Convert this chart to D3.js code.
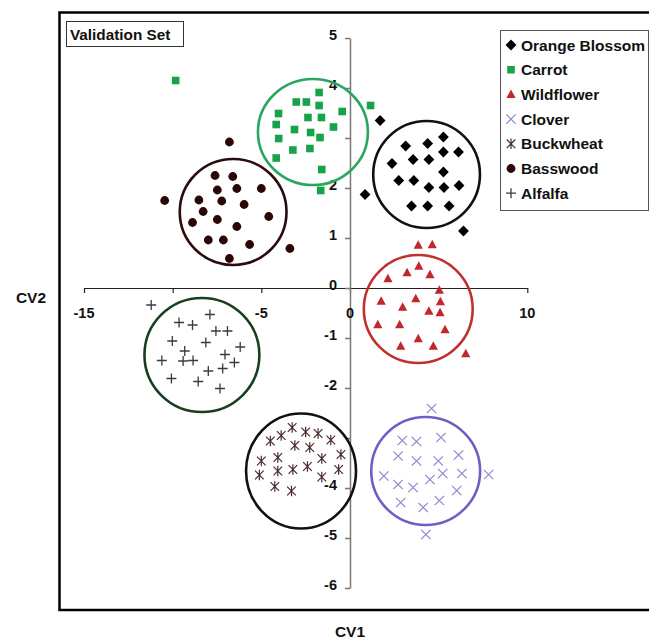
<!DOCTYPE html>
<html>
<head>
<meta charset="utf-8">
<script src="https://cdn.jsdelivr.net/npm/d3@7"></script>
<style>
  html, body { margin: 0; padding: 0; background: #fff; }
  svg { display: block; }
  text { font-family: "Liberation Sans", Arial, sans-serif; font-weight: bold; fill: #111; }
</style>
</head>
<body>
<svg id="chart" width="649" height="639"></svg>
<script>
// ---------- data ----------
const seriesNames = ["Orange Blossom", "Carrot", "Wildflower", "Clover", "Buckwheat", "Basswood", "Alfalfa"];

const orangeX = [1.70,5.27,3.14,4.38,5.27,6.12,3.56,4.45,2.37,5.27,2.75,3.60,4.45,5.30,6.15,0.85,3.47,4.38,5.59,6.40];
const orangeY = [3.35,3.02,2.84,2.89,2.72,2.72,2.57,2.57,2.49,2.32,2.15,2.15,2.01,2.01,2.05,1.87,1.64,1.64,1.64,1.14];

const carrotX = [-9.83,-1.74,-3.03,-2.46,-1.74,-0.44,1.16,-4.03,-2.37,-1.61,-4.16,-3.13,-0.93,-2.22,-1.69,-4.02,-3.22,-2.26,-4.16,-1.59,-1.65];
const carrotY = [4.15,3.91,3.72,3.72,3.65,3.53,3.65,3.49,3.41,3.41,3.27,3.17,3.22,3.11,3.01,2.99,2.76,2.79,2.60,2.37,1.95];

const wildX = [3.85,4.64,3.88,3.22,4.51,2.14,5.04,1.76,3.71,5.10,2.97,4.45,5.08,1.57,2.80,5.36,3.85,2.86,4.70,6.53];
const wildY = [0.86,0.87,0.44,0.31,0.27,0.19,-0.04,-0.26,-0.21,-0.27,-0.38,-0.46,-0.49,-0.73,-0.73,-0.83,-1.01,-1.16,-1.16,-1.31];

const cloverX = [4.60,2.95,3.75,5.13,2.71,3.75,4.98,6.12,5.23,6.31,7.82,1.91,4.51,2.71,3.56,6.02,2.86,5.04,4.13,4.28];
const cloverY = [-2.41,-3.05,-3.07,-2.99,-3.36,-3.46,-3.46,-3.34,-3.71,-3.71,-3.73,-3.76,-3.83,-3.93,-3.99,-4.05,-4.29,-4.25,-4.39,-4.93];

const buckX = [-3.26,-3.88,-2.50,-1.80,-4.49,-1.08,-3.11,-2.27,-0.51,-5.00,-4.07,-1.59,-3.22,-2.40,-4.07,-0.64,-5.11,-1.59,-4.24,-3.30];
const buckY = [-2.79,-2.95,-2.88,-2.91,-3.06,-3.04,-3.15,-3.19,-3.33,-3.46,-3.39,-3.41,-3.63,-3.57,-3.66,-3.63,-3.74,-3.78,-3.97,-4.06];

const bassX = [-6.80,-10.45,-7.61,-6.61,-7.48,-6.38,-5.00,-8.52,-7.23,-5.97,-8.28,-4.58,-8.88,-7.48,-6.38,-7.99,-7.14,-5.66,-3.39,-6.80];
const bassY = [2.92,1.75,2.25,2.23,1.96,1.99,1.99,1.76,1.74,1.67,1.53,1.43,1.31,1.37,1.23,0.96,0.96,0.87,0.79,0.59];

const alfX = [-11.21,-7.90,-9.64,-8.88,-7.56,-6.91,-10.02,-8.13,-6.19,-9.32,-7.05,-10.61,-9.41,-8.85,-6.52,-7.18,-7.99,-10.07,-8.56,-7.33];
const alfY = [-0.34,-0.53,-0.69,-0.74,-0.86,-0.86,-1.06,-1.09,-1.18,-1.26,-1.33,-1.45,-1.46,-1.45,-1.49,-1.61,-1.66,-1.81,-1.87,-2.01];

// group circles: centre x, centre y, radius in x units, radius in y units
const circleCX = [4.32, -2.09, 3.85, 4.27, -2.76, -6.59, -8.35];
const circleCY = [2.27, 3.12, -0.42, -3.66, -3.66, 1.52, -1.34];
const circleRX = [3.01, 3.10, 3.07, 3.07, 3.10, 3.01, 3.24];
const circleRY = [1.07, 1.06, 1.08, 1.08, 1.15, 1.06, 1.14];

const xTicks = [-15, -10, -5, 0, 5, 10];
const xTickLabels = [-15, -5, 0, 10];
const yTicks = [5, 4, 3, 2, 1, 0, -1, -2, -3, -4, -5, -6];
const yTickLabels = [5, 4, 2, 1, 0, -1, -2, -4, -5, -6];

// ---------- styling ----------
const markerColor = ["#000000", "#17a34a", "#c1272d", "#8c86d2", "#4a2a2a", "#2a0606", "#3a3a44"];
const circleColor = ["#111111", "#2aa65e", "#c0302c", "#6e5fc6", "#151010", "#2a0c0c", "#173f20"];
const markerKind = ["diamond", "square", "triangle", "x", "star", "circle", "plus"];

const xs = [orangeX, carrotX, wildX, cloverX, buckX, bassX, alfX];
const ys = [orangeY, carrotY, wildY, cloverY, buckY, bassY, alfY];

const svg = d3.select("#chart");

const x = d3.scaleLinear().domain([-15, 10]).range([84, 527.3]);
const y = d3.scaleLinear().domain([-6, 5]).range([588, 38]);

// outer frame
svg.append("rect")
  .attr("x", 59.5).attr("y", 12.5).attr("width", 620).attr("height", 597.5)
  .attr("fill", "none").attr("stroke", "#000").attr("stroke-width", 2.5);

// axes
const xAxisG = svg.append("g").attr("transform", `translate(0,${y(0)})`)
  .call(d3.axisBottom(x).tickValues(xTicks).tickSize(5).tickSizeOuter(0).tickFormat(""));
xAxisG.select(".domain").attr("stroke", "#222").attr("stroke-width", 1.2);
xAxisG.selectAll(".tick line").attr("stroke", "#222").attr("stroke-width", 1.2);

const yAxisG = svg.append("g").attr("transform", `translate(${x(0)},0)`)
  .call(d3.axisLeft(y).tickValues(yTicks).tickSize(5).tickSizeOuter(0).tickFormat(""));
yAxisG.select(".domain").attr("stroke", "#777").attr("stroke-width", 1.5);
yAxisG.selectAll(".tick line").attr("stroke", "#777").attr("stroke-width", 1.5);

svg.append("g").selectAll("text").data(xTickLabels).join("text")
  .attr("x", d => x(d)).attr("y", y(0) + 30)
  .attr("text-anchor", "middle").attr("font-size", 14.5)
  .text(d => d);

svg.append("g").selectAll("text").data(yTickLabels).join("text")
  .attr("x", x(0) - 13).attr("y", d => y(d) + 2)
  .attr("text-anchor", "end").attr("font-size", 14.5)
  .text(d => d);

// group circles
svg.append("g").selectAll("ellipse").data(d3.range(circleCX.length)).join("ellipse")
  .attr("cx", i => x(circleCX[i]))
  .attr("cy", i => y(circleCY[i]))
  .attr("rx", i => x(circleCX[i] + circleRX[i]) - x(circleCX[i]))
  .attr("ry", i => y(circleCY[i] - circleRY[i]) - y(circleCY[i]))
  .attr("fill", "none")
  .attr("stroke", i => circleColor[i])
  .attr("stroke-width", 2.6);

// marker drawing
function drawMarker(g, kind, color) {
  if (kind === "diamond") {
    g.append("path").attr("d", "M0,-5.4L5.4,0L0,5.4L-5.4,0Z").attr("fill", color);
  } else if (kind === "square") {
    g.append("rect").attr("x", -3.8).attr("y", -3.8).attr("width", 7.6).attr("height", 7.6).attr("fill", color);
  } else if (kind === "triangle") {
    g.append("path").attr("d", "M0,-4.8L4.6,3.7L-4.6,3.7Z").attr("fill", color);
  } else if (kind === "circle") {
    g.append("circle").attr("r", 4.4).attr("fill", color);
  } else if (kind === "x") {
    g.append("path").attr("d", "M-4.7,-4.7L4.7,4.7M-4.7,4.7L4.7,-4.7")
      .attr("stroke", color).attr("stroke-width", 1.2).attr("fill", "none");
  } else if (kind === "star") {
    g.append("path").attr("d", "M-4.3,-4.3L4.3,4.3M-4.3,4.3L4.3,-4.3M0,-5.3L0,5.3")
      .attr("stroke", color).attr("stroke-width", 1.2).attr("fill", "none");
  } else if (kind === "plus") {
    g.append("path").attr("d", "M-5,0L5,0M0,-5L0,5")
      .attr("stroke", color).attr("stroke-width", 1.3).attr("fill", "none");
  }
}

// points
seriesNames.forEach((name, s) => {
  const g = svg.append("g").attr("class", "series");
  xs[s].forEach((vx, i) => {
    const m = g.append("g").attr("transform", `translate(${x(vx)},${y(ys[s][i])})`);
    drawMarker(m, markerKind[s], markerColor[s]);
  });
});

// title box
svg.append("rect").attr("x", 66.5).attr("y", 21.5).attr("width", 117).attr("height", 25)
  .attr("fill", "#fff").attr("stroke", "#333").attr("stroke-width", 1);
svg.append("text").attr("x", 70).attr("y", 39.5).attr("font-size", 15.3).text("Validation Set");

// legend
const legend = svg.append("g");
legend.append("rect").attr("x", 500.5).attr("y", 30.5).attr("width", 148).attr("height", 180)
  .attr("fill", "#fff").attr("stroke", "#555").attr("stroke-width", 1);
seriesNames.forEach((name, s) => {
  const cy = 45 + s * 24.7;
  const m = legend.append("g").attr("transform", `translate(511,${cy})`);
  drawMarker(m, markerKind[s], markerColor[s]);
  legend.append("text").attr("x", 521).attr("y", cy + 5.5).attr("font-size", 15.5).text(name);
});

// axis titles
svg.append("text").attr("x", 31).attr("y", 303).attr("text-anchor", "middle").attr("font-size", 15.5).text("CV2");
svg.append("text").attr("x", 350).attr("y", 637).attr("text-anchor", "middle").attr("font-size", 15.5).text("CV1");
</script>
</body>
</html>
